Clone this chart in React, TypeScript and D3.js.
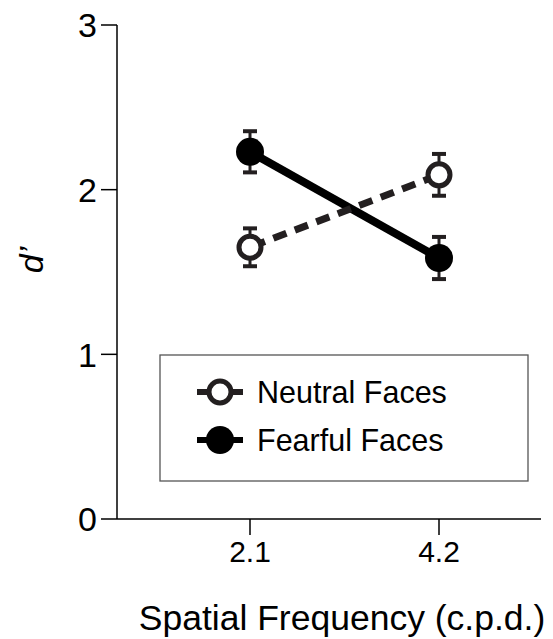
import React from "react";
import * as d3 from "d3";

const categories = ["2.1", "4.2"];
const yTicks = [0, 1, 2, 3];
const neutralMeans = [1.65, 2.09];
const neutralErr = [0.115, 0.127];
const fearfulMeans = [2.23, 1.585];
const fearfulErr = [0.125, 0.128];
const legendLabels = ["Neutral Faces", "Fearful Faces"];

const FONT = "'Liberation Sans', Arial, Helvetica, sans-serif";
const INK = "#231f20";

export default function App() {
  const W = 553;
  const H = 639;
  const axisX = 117;
  const axisRight = 541;
  const x = d3.scalePoint<string>().domain(categories).range([250, 439]);
  const y = d3.scaleLinear().domain([0, 3]).range([519, 25]);
  const y0 = y(0);

  const line = d3
    .line<number>()
    .x((_, i) => x(categories[i]) as number)
    .y((d) => y(d));

  const errBars = (means: number[], errs: number[], key: string) =>
    means.map((m, i) => {
      const cx = x(categories[i]) as number;
      const top = y(m + errs[i]);
      const bot = y(m - errs[i]);
      return (
        <g key={key + i} stroke={INK}>
          <line x1={cx} x2={cx} y1={top} y2={bot} strokeWidth={3} />
          <line x1={cx - 7} x2={cx + 7} y1={top} y2={top} strokeWidth={4} />
          <line x1={cx - 7} x2={cx + 7} y1={bot} y2={bot} strokeWidth={4} />
        </g>
      );
    });

  return (
    <svg
      width={W}
      height={H}
      style={{ position: "absolute", left: 0, top: 0, background: "#fff" }}
    >
      {/* Axes */}
      <line x1={axisX} x2={axisX} y1={y(3)} y2={y0} stroke="#000" strokeWidth={1.5} />
      <line x1={axisX} x2={axisRight} y1={y0} y2={y0} stroke="#000" strokeWidth={1.5} />
      {yTicks.map((t) => (
        <g key={"yt" + t}>
          <line x1={axisX - 16} x2={axisX} y1={y(t)} y2={y(t)} stroke="#000" strokeWidth={1.5} />
          <text
            x={97}
            y={y(t)}
            dy="0.36em"
            textAnchor="end"
            fontFamily={FONT}
            fontSize={34}
            fill="#000"
          >
            {t}
          </text>
        </g>
      ))}
      {categories.map((c) => (
        <g key={"xt" + c}>
          <line
            x1={x(c) as number}
            x2={x(c) as number}
            y1={y0}
            y2={y0 + 16}
            stroke="#000"
            strokeWidth={1.5}
          />
          <text
            x={x(c) as number}
            y={562}
            textAnchor="middle"
            fontFamily={FONT}
            fontSize={30}
            fill="#000"
          >
            {c}
          </text>
        </g>
      ))}

      {/* Axis titles */}
      <text
        x={342}
        y={630}
        textAnchor="middle"
        fontFamily={FONT}
        fontSize={35.5}
        fill="#000"
      >
        Spatial Frequency (c.p.d.)
      </text>
      <text
        transform="translate(43,260) rotate(-90)"
        textAnchor="middle"
        fontFamily={FONT}
        fontSize={34}
        fontStyle="italic"
        fill="#000"
      >
        d’
      </text>

      {/* Lines */}
      <path d={line(fearfulMeans) || ""} fill="none" stroke="#000" strokeWidth={8} />
      <path
        d={line(neutralMeans) || ""}
        fill="none"
        stroke={INK}
        strokeWidth={7}
        strokeDasharray="14 9"
        strokeDashoffset={-2}
      />

      {/* Error bars */}
      {errBars(neutralMeans, neutralErr, "ne")}
      {errBars(fearfulMeans, fearfulErr, "fe")}

      {/* Markers */}
      {neutralMeans.map((m, i) => (
        <circle
          key={"nm" + i}
          cx={x(categories[i]) as number}
          cy={y(m)}
          r={11}
          fill="#fff"
          stroke={INK}
          strokeWidth={5}
        />
      ))}
      {fearfulMeans.map((m, i) => (
        <circle
          key={"fm" + i}
          cx={x(categories[i]) as number}
          cy={y(m)}
          r={14}
          fill="#000"
        />
      ))}

      {/* Legend */}
      <rect x={160} y={355} width={368} height={126} fill="#fff" stroke="#555" strokeWidth={1.3} />
      {legendLabels.map((lab, i) => {
        const ly = 392 + i * 48;
        return (
          <g key={"lg" + i}>
            <line x1={197} x2={243} y1={ly} y2={ly} stroke={i === 0 ? INK : "#000"} strokeWidth={6} />
            {i === 0 ? (
              <circle cx={220} cy={ly} r={11} fill="#fff" stroke={INK} strokeWidth={5} />
            ) : (
              <circle cx={220} cy={ly} r={14} fill="#000" />
            )}
            <text x={257} y={ly + 11} fontFamily={FONT} fontSize={30.5} fill="#000">
              {lab}
            </text>
          </g>
        );
      })}
    </svg>
  );
}
